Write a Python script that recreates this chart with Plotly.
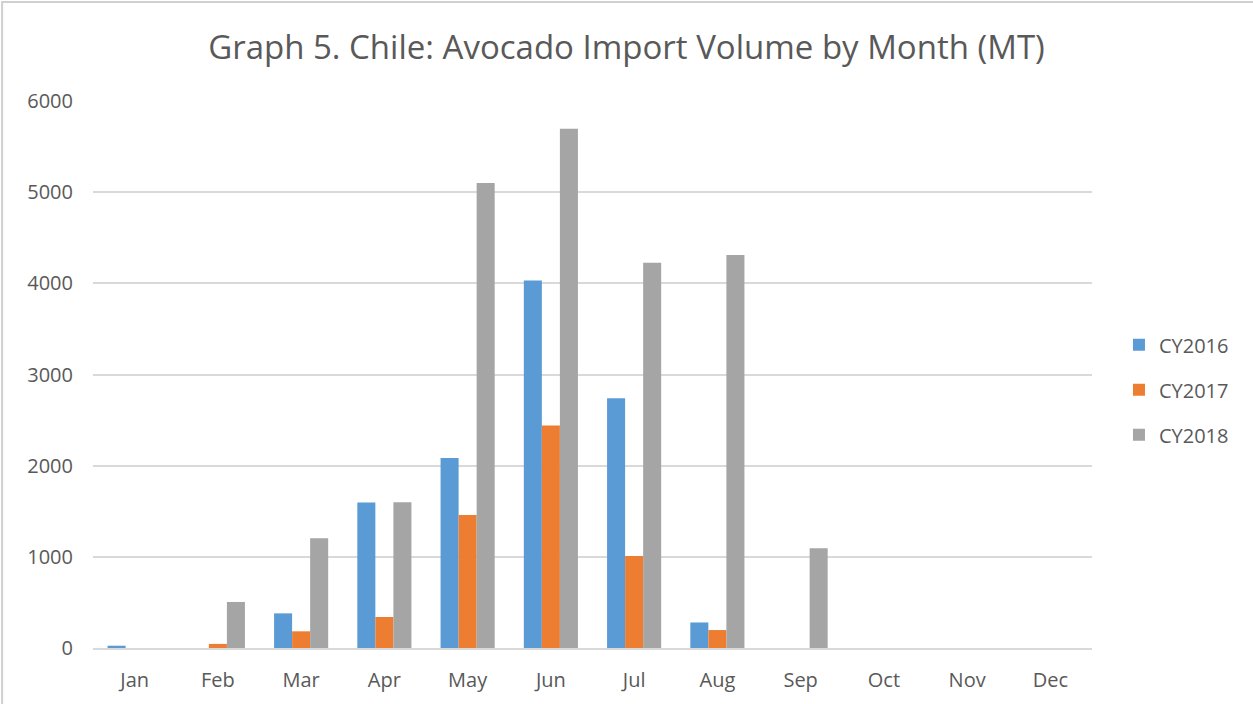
import plotly.graph_objects as go

months = ["Jan", "Feb", "Mar", "Apr", "May", "Jun", "Jul", "Aug", "Sep", "Oct", "Nov", "Dec"]
cy2016 = [25, 0, 380, 1595, 2085, 4030, 2740, 280, 0, 0, 0, 0]
cy2017 = [0, 45, 183, 340, 1460, 2440, 1010, 197, 0, 0, 0, 0]
cy2018 = [0, 505, 1205, 1600, 5100, 5695, 4225, 4310, 1095, 0, 0, 0]

series = [("CY2016", cy2016, "#5b9bd5"), ("CY2017", cy2017, "#ed7d31"), ("CY2018", cy2018, "#a5a5a5")]

fig = go.Figure()
for name, vals, color in series:
    fig.add_trace(go.Bar(x=months, y=vals, name=name, marker=dict(color=color, line=dict(width=0)),
                         legendgroup=name))

fig.update_layout(
    width=1253, height=704,
    paper_bgcolor="white", plot_bgcolor="white",
    margin=dict(l=93, r=161, t=101, b=56),
    barmode="group", bargap=0.35, bargroupgap=0,
    title=dict(text="Graph 5. Chile: Avocado Import Volume by Month (MT)", x=0.5, xanchor="center",
               y=0.932, yanchor="middle",
               font=dict(family="Open Sans", size=33, color="#595959")),
    font=dict(family="Open Sans", color="#595959"),
    xaxis=dict(showgrid=False, showline=True, linecolor="#d9d9d9", linewidth=1.5, ticks="",
               tickfont=dict(size=20, color="#595959"), ticklabelstandoff=13, fixedrange=True),
    yaxis=dict(range=[0, 6000], dtick=1000, showgrid=True, gridcolor="#d9d9d9", gridwidth=1.5,
               zeroline=False, ticks="", tickfont=dict(size=20, color="#595959"), ticklabelstandoff=19),
    legend=dict(x=1.027, y=0.472, xanchor="left", yanchor="middle", tracegroupgap=16,
                font=dict(size=20, color="#595959"), itemwidth=30),
    shapes=[dict(type="rect", xref="paper", yref="paper", x0=-0.091, x1=1.3, y0=-0.3, y1=1.181,
                 line=dict(color="#d0d0d0", width=2), fillcolor="rgba(0,0,0,0)", layer="below")],
)

fig.write_html("out.html", config={"displayModeBar": False},
               post_script="document.body.style.margin='0px';")
